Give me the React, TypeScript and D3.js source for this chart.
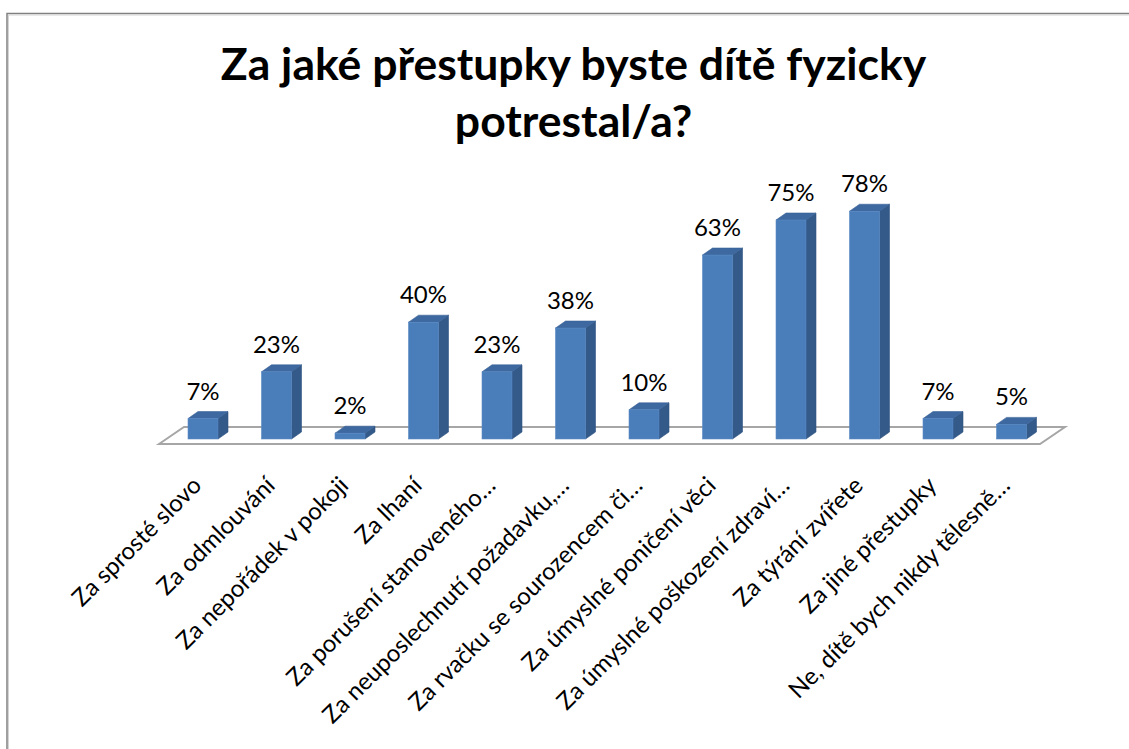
import * as d3 from 'd3'
import { useEffect, useRef } from 'react'

// survey answers (share of respondents, %)
const categories = [
  'Za sprosté slovo',
  'Za odmlouvání',
  'Za nepořádek v pokoji',
  'Za lhaní',
  'Za porušení stanoveného…',
  'Za neuposlechnutí požadavku,…',
  'Za rvačku se sourozencem či…',
  'Za úmyslné poničení věci',
  'Za úmyslné poškození zdraví…',
  'Za týrání zvířete',
  'Za jiné přestupky',
  'Ne, dítě bych nikdy tělesně…',
]
const values = [7, 23, 2, 40, 23, 38, 10, 63, 75, 78, 7, 5]
const titleLines = ['Za jaké přestupky byste dítě fyzicky', 'potrestal/a?']

const width = 1129
const height = 749

const App = () => {
  const svgRef = useRef<SVGSVGElement>(null)

  useEffect(() => {
    const svg = d3.select(svgRef.current)
    svg.selectAll('*').remove()

    // chart area border (cut off on the right and bottom)
    svg
      .append('path')
      .attr('d', `M7,${height} V13.5 H${width}`)
      .attr('fill', 'none')
      .attr('stroke', '#808080')
      .attr('stroke-width', 1.5)
    svg
      .append('path')
      .attr('d', `M8.5,${height} V15 H${width}`)
      .attr('fill', 'none')
      .attr('stroke', '#d4d4d4')
      .attr('stroke-width', 1)

    // title
    svg
      .append('g')
      .selectAll('text')
      .data(titleLines)
      .enter()
      .append('text')
      .attr('x', 573.5)
      .attr('y', (_, i) => 80 + i * 57)
      .attr('text-anchor', 'middle')
      .style('font-family', 'Lato, sans-serif')
      .style('font-weight', '700')
      .style('font-size', '44.5px')
      .style('fill', '#000')
      .text((d) => d)

    // scales
    const xScale = d3
      .scaleBand<string>()
      .domain(categories)
      .range([166.25, 1048.25])
      .paddingInner(0.592)
      .paddingOuter(0.296)

    const yScale = d3.scaleLinear().domain([0, 100]).range([439, 147])

    // 3d depth of bars and floor
    const depth = { dx: 10, dy: -7 }
    const floor = { dx: 25, dy: -17 }
    const floorFront = yScale(0) + 5
    const [x0, x1] = [159, 1040]

    svg
      .append('path')
      .attr(
        'd',
        `M${x0},${floorFront} L${x0 + floor.dx},${floorFront + floor.dy} L${x1 + floor.dx},${floorFront + floor.dy} L${x1},${floorFront} Z`
      )
      .attr('fill', '#fff')
      .attr('stroke', '#a6a6a6')
      .attr('stroke-width', 2)

    const bw = xScale.bandwidth()
    const bars = svg
      .append('g')
      .selectAll('g')
      .data(values)
      .enter()
      .append('g')

    // side face
    bars
      .append('path')
      .attr('d', (d, i) => {
        const x = (xScale(categories[i]) as number) + bw
        const top = yScale(d)
        const base = yScale(0)
        return `M${x},${base} L${x},${top} L${x + depth.dx},${top + depth.dy} L${x + depth.dx},${base + depth.dy} Z`
      })
      .attr('fill', '#335a88')
      .attr('stroke', '#2f5281')
      .attr('stroke-width', 0.6)

    // top face
    bars
      .append('path')
      .attr('d', (d, i) => {
        const x = xScale(categories[i]) as number
        const top = yScale(d)
        return `M${x},${top} L${x + depth.dx},${top + depth.dy} L${x + bw + depth.dx},${top + depth.dy} L${x + bw},${top} Z`
      })
      .attr('fill', '#3d68a0')
      .attr('stroke', '#3a6398')
      .attr('stroke-width', 0.6)

    // front face
    bars
      .append('rect')
      .attr('x', (_, i) => xScale(categories[i]) as number)
      .attr('y', (d) => yScale(d))
      .attr('width', bw)
      .attr('height', (d) => yScale(0) - yScale(d))
      .attr('fill', '#4a7ebb')
      .attr('stroke', '#5a8ac4')
      .attr('stroke-width', 0.6)

    // value labels
    svg
      .append('g')
      .selectAll('text')
      .data(values)
      .enter()
      .append('text')
      .attr('x', (_, i) => (xScale(categories[i]) as number) + bw / 2)
      .attr('y', (d) => yScale(d) - 19)
      .attr('text-anchor', 'middle')
      .style('font-family', 'Lato, sans-serif')
      .style('font-size', '24px')
      .style('fill', '#000')
      .text((d) => d + '%')

    // category labels, rotated
    svg
      .append('g')
      .selectAll('text')
      .data(categories)
      .enter()
      .append('text')
      .attr(
        'transform',
        (d) => `translate(${(xScale(d) as number) + bw / 2 - 6},481) rotate(-45)`
      )
      .attr('dy', '0.35em')
      .attr('text-anchor', 'end')
      .style('font-family', 'Lato, sans-serif')
      .style('font-size', '24px')
      .style('fill', '#000')
      .text((d) => d)
  }, [])

  return (
    <svg
      ref={svgRef}
      width={width}
      height={height}
      style={{ position: 'absolute', left: 0, top: 0, background: '#fff' }}
    />
  )
}

export default App
